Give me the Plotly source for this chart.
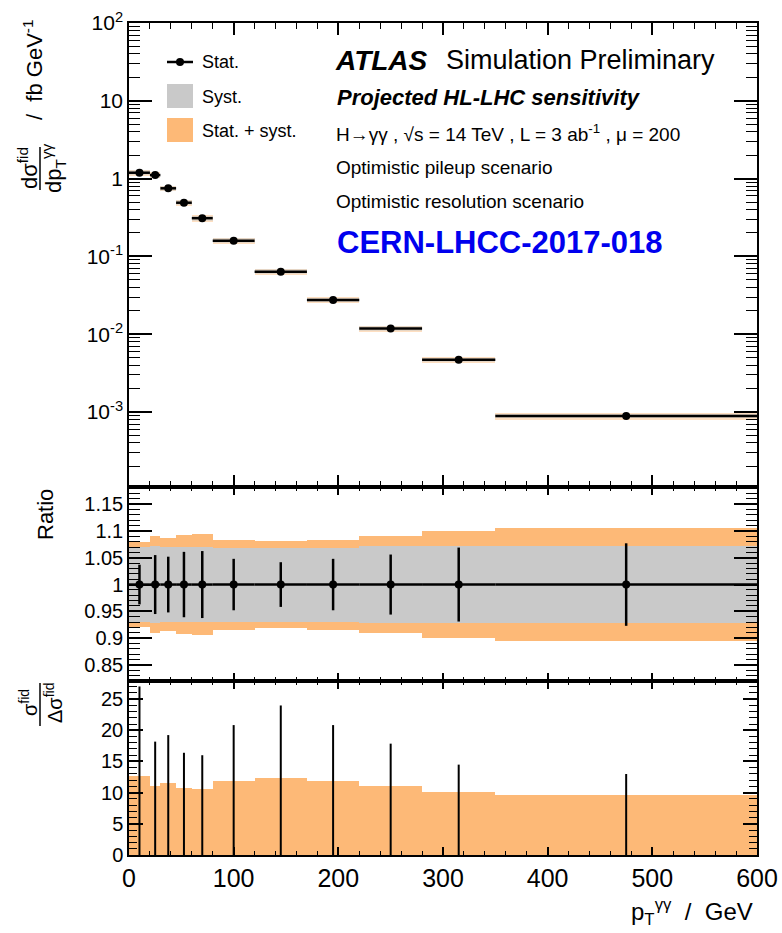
import numpy as np
import plotly.graph_objects as go
from plotly.subplots import make_subplots

# pT(yy) binning [GeV]
bin_edges = [0, 20, 30, 45, 60, 80, 120, 170, 220, 280, 350, 600]
# fiducial differential cross-section [fb / GeV]
xsec = [1.19, 1.11, 0.75, 0.49, 0.31, 0.159, 0.0636, 0.0275, 0.0118, 0.00468, 0.00089]
# relative uncertainties
stat_rel = [0.037, 0.055, 0.052, 0.061, 0.0625, 0.048, 0.0417, 0.048, 0.056, 0.069, 0.077]
syst_rel = [0.070, 0.071, 0.070, 0.070, 0.070, 0.069, 0.069, 0.069, 0.071, 0.072, 0.071]
# ratio to the expectation
ratio_vals = [1.0, 1.0, 1.0, 1.0, 1.0, 1.0, 1.0, 1.0, 1.0, 1.0, 1.0]

log_tickvals = [1e-3, 1e-2, 1e-1, 1, 10, 100]
log_ticktext = ["10<sup>-3</sup>", "10<sup>-2</sup>", "10<sup>-1</sup>", "1", "10", "10<sup>2</sup>"]
ratio_ticks = [0.85, 0.9, 0.95, 1.0, 1.05, 1.1, 1.15]
ratio_ticktext = ["0.85", "0.9", "0.95", "1", "1.05", "1.1", "1.15"]

ORANGE = "#fdb977"
GRAY = "#c9c9c9"
FONT = "Liberation Sans, Arial, sans-serif"

edges = np.array(bin_edges, dtype=float)
lo, hi = edges[:-1], edges[1:]
centers = 0.5 * (lo + hi)
widths = hi - lo
y = np.array(xsec)
stat = np.array(stat_rel)
syst = np.array(syst_rel)
tot = np.sqrt(stat ** 2 + syst ** 2)
rat = np.array(ratio_vals)

W, H = 782, 933
ML, MR, MT, MB = 129, 25, 23, 78
PW, PH = W - ML - MR, H - MT - MB


def px(xp):
    return (xp - ML) / PW


def py(yp):
    return (H - MB - yp) / PH


fig = make_subplots(rows=3, cols=1, shared_xaxes=True, vertical_spacing=0)

# ---- top panel: cross-section with uncertainty boxes
fig.add_trace(go.Bar(x=centers, y=2 * tot * y, base=y * (1 - tot), width=widths, opacity=0.45,
                     marker=dict(color=ORANGE, line=dict(width=0)), showlegend=False), row=1, col=1)
fig.add_trace(go.Bar(x=centers, y=2 * syst * y, base=y * (1 - syst), width=widths, opacity=0.45,
                     marker=dict(color=GRAY, line=dict(width=0)), showlegend=False), row=1, col=1)
fig.add_trace(go.Scatter(
    x=centers, y=y, mode="markers",
    marker=dict(color="black", size=8),
    error_x=dict(type="data", symmetric=False, array=hi - centers, arrayminus=centers - lo,
                 width=0, thickness=2.5, color="black"),
    error_y=dict(type="data", array=stat * y, width=0, thickness=2.5, color="black"),
    showlegend=False), row=1, col=1)

# ---- middle panel: ratio with bands
fig.add_trace(go.Bar(x=centers, y=2 * tot, base=rat - tot, width=widths,
                     marker=dict(color=ORANGE, line=dict(width=0)), showlegend=False), row=2, col=1)
fig.add_trace(go.Bar(x=centers, y=2 * syst, base=rat - syst, width=widths,
                     marker=dict(color=GRAY, line=dict(width=0)), showlegend=False), row=2, col=1)
fig.add_trace(go.Scatter(
    x=centers, y=rat, mode="markers",
    marker=dict(color="black", size=8),
    error_x=dict(type="data", symmetric=False, array=hi - centers, arrayminus=centers - lo,
                 width=0, thickness=2.5, color="black"),
    error_y=dict(type="data", array=stat * rat, width=0, thickness=2.5, color="black"),
    showlegend=False), row=2, col=1)

# ---- bottom panel: significance sigma / delta sigma
fig.add_trace(go.Bar(x=centers, y=1.0 / tot, width=widths,
                     marker=dict(color=ORANGE, line=dict(width=0)), showlegend=False), row=3, col=1)
vx, vy = [], []
for c, s in zip(centers, stat):
    vx += [c, c, None]
    vy += [0, 1.0 / s, None]
fig.add_trace(go.Scatter(x=vx, y=vy, mode="lines", line=dict(color="black", width=2),
                         showlegend=False), row=3, col=1)

axis_common = dict(showline=True, linecolor="black", linewidth=1.5, mirror="allticks",
                   ticks="inside", tickcolor="black", showgrid=False, zeroline=False,
                   automargin=False)

for r in (1, 2, 3):
    long_t = 12 if r == 1 else 8
    fig.update_xaxes(range=[0, 600], dtick=100, tick0=0, ticklen=long_t, tickwidth=1.5,
                     minor=dict(dtick=20, ticklen=long_t // 2, ticks="inside", tickcolor="black",
                                tickwidth=1, showgrid=False),
                     showticklabels=(r == 3), row=r, col=1, **axis_common)

fig.update_xaxes(tickfont=dict(family=FONT, size=25, color="black"), row=3, col=1)

fig.update_yaxes(type="log", range=[-3.964, 2], tickvals=log_tickvals, ticktext=log_ticktext,
                 ticklen=23, tickwidth=1.5,
                 minor=dict(dtick="D1", ticklen=11, ticks="inside", tickcolor="black", tickwidth=1,
                            showgrid=False),
                 tickfont=dict(family=FONT, size=21, color="black"),
                 domain=[0.4423, 1.0], row=1, col=1, **axis_common)
fig.update_yaxes(range=[0.82, 1.182], tickvals=ratio_ticks, ticktext=ratio_ticktext,
                 ticklen=23, tickwidth=1.5,
                 minor=dict(dtick=0.01, tick0=0.8, ticklen=11, ticks="inside", tickcolor="black",
                            tickwidth=1, showgrid=False),
                 tickfont=dict(family=FONT, size=20, color="black"),
                 domain=[0.2091, 0.4423], row=2, col=1, **axis_common)
fig.update_yaxes(range=[0, 27.9], dtick=5, tick0=0, ticklen=14, tickwidth=1.5,
                 minor=dict(dtick=1, ticklen=8, ticks="inside", tickcolor="black", tickwidth=1,
                            showgrid=False),
                 tickfont=dict(family=FONT, size=20, color="black"),
                 domain=[0.0, 0.2091], row=3, col=1, **axis_common)

ann = []


def text(xp, yp, s, size, xanchor="left", angle=0, color="black", yanchor="middle"):
    ann.append(dict(x=px(xp), y=py(yp), xref="paper", yref="paper", text=s, showarrow=False,
                    xanchor=xanchor, yanchor=yanchor, textangle=angle,
                    font=dict(family=FONT, size=size, color=color)))


# labels inside the top panel
text(333, 60, "<b><i>ATLAS</i></b>", 28)
text(444, 60, "Simulation Preliminary", 27)
text(335, 98, "<b><i>Projected HL-LHC sensitivity</i></b>", 22)
text(334, 133, "H\u2192\u03b3\u03b3 , \u221as = 14 TeV , L = 3 ab<sup>-1</sup> , \u03bc = 200", 19)
text(334, 167, "Optimistic pileup scenario", 19)
text(334, 202, "Optimistic resolution scenario", 19)
text(335, 243, "<b>CERN-LHCC-2017-018</b>", 31, color="#0000ee")

# legend
text(200, 62, "Stat.", 18)
text(200, 97, "Syst.", 18)
text(200, 131, "Stat. + syst.", 18)

# axis titles
text(28, 168, "d\u03c3<sup>fid</sup>", 22, xanchor="center", angle=-90)
text(53, 168, "dp<sub>T</sub><sup>\u03b3\u03b3</sup>", 22, xanchor="center", angle=-90)
text(33, 70, "/  fb GeV<sup>-1</sup>", 22, xanchor="center", angle=-90)
text(45, 515, "Ratio", 22, xanchor="center", angle=-90)
text(28, 703, "\u03c3<sup>fid</sup>", 20, xanchor="center", angle=-90)
text(53, 703, "\u0394\u03c3<sup>fid</sup>", 20, xanchor="center", angle=-90)
text(755, 912, "p<sub>T</sub><sup>\u03b3\u03b3</sup>  /  GeV", 24, xanchor="right")

shapes = [
    # fraction bars of the y-axis titles
    dict(type="line", xref="paper", yref="paper", x0=px(40), x1=px(40), y0=py(147), y1=py(190),
         line=dict(color="black", width=1.5)),
    dict(type="line", xref="paper", yref="paper", x0=px(40), x1=px(40), y0=py(683), y1=py(726),
         line=dict(color="black", width=1.5)),
    # legend symbols
    dict(type="line", xref="paper", yref="paper", x0=px(167), x1=px(193), y0=py(62), y1=py(62),
         line=dict(color="black", width=2.5)),
    dict(type="circle", xref="paper", yref="paper", x0=px(176), x1=px(184), y0=py(66), y1=py(58),
         fillcolor="black", line=dict(color="black", width=0)),
    dict(type="rect", xref="paper", yref="paper", x0=px(167), x1=px(193), y0=py(108), y1=py(84),
         fillcolor=GRAY, line=dict(width=0)),
    dict(type="rect", xref="paper", yref="paper", x0=px(167), x1=px(193), y0=py(142), y1=py(118),
         fillcolor=ORANGE, line=dict(width=0)),
]

fig.update_layout(
    width=W, height=H,
    margin=dict(l=ML, r=MR, t=MT, b=MB, pad=0, autoexpand=False),
    paper_bgcolor="white", plot_bgcolor="white",
    barmode="overlay", bargap=0,
    annotations=ann, shapes=shapes,
    font=dict(family=FONT, color="black"),
    showlegend=False,
)

fig.write_html("out.html")
